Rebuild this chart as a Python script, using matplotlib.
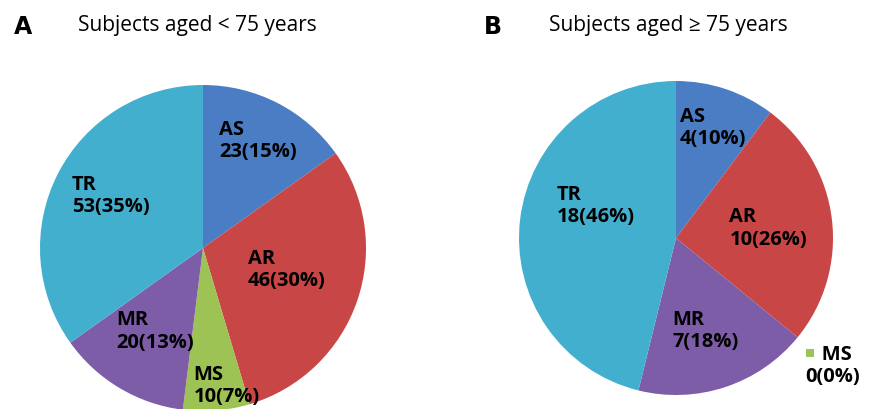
import matplotlib
matplotlib.use("Agg")
import matplotlib.pyplot as plt
import numpy as np

categories = ["AS", "AR", "MS", "MR", "TR"]
counts_a = [23, 46, 10, 20, 53]
counts_b = [4, 10, 0, 7, 18]
title_a = "Subjects aged < 75 years"
title_b = "Subjects aged \u2265 75 years"

colors = ["#4A7DC4", "#C84646", "#9CC354", "#7E5DA8", "#43AFCF"]

plt.rcParams['font.family'] = ['Open Sans', 'DejaVu Sans']

fig = plt.figure(figsize=(8.77, 4.09), dpi=100)
ax = fig.add_axes([0, 0, 1, 1])

LBL = dict(fontsize=14.5, fontweight='bold', linespacing=1.15)


def draw_pie(counts, center, radius, label_r, label_rot):
    total = float(sum(counts))
    wedges, _ = ax.pie(counts, colors=colors, startangle=90, counterclock=False,
                       radius=radius, center=center, frame=False,
                       wedgeprops=dict(linewidth=0))
    for i, w in enumerate(wedges):
        if counts[i] == 0:
            continue
        mid = np.deg2rad((w.theta1 + w.theta2) / 2 + label_rot[i])
        x = center[0] + label_r[i] * radius * np.cos(mid)
        y = center[1] + label_r[i] * radius * np.sin(mid)
        pct = round(100 * counts[i] / total)
        ax.text(x, y, "%s\n%d(%d%%)" % (categories[i], counts[i], pct),
                ha='center', va='center', multialignment='left', **LBL)
    return wedges


# panel A
draw_pie(counts_a, (203, 161), 163,
         [0.74, 0.53, 0.86, 0.59, 0.65], [0, 4, 5, 1, -2])
# panel B
wb = draw_pie(counts_b, (676, 171), 157,
              [0.74, 0.59, 0.0, 0.62, 0.55], [0, -1, 0, -1, -15])

# zero slice label shown outside with a small colour key
ms = wb[2]
ang = np.deg2rad(ms.theta1)
ex = 676 + 157 * np.cos(ang)
ey = 171 + 157 * np.sin(ang)
ax.scatter([ex + 12], [ey - 16], marker='s', color=colors[2], s=36,
           linewidths=0, zorder=5)
ax.text(ex + 8, ey - 29, "   %s\n%d(%d%%)" % (categories[2], counts_b[2], 0),
        ha='left', va='center', multialignment='left', **LBL)

ax.text(14, 382, "A", fontsize=17, fontweight='bold', va='center', ha='left',
        family='DejaVu Sans')
ax.text(78, 383, title_a, fontsize=15, va='center', ha='left')
ax.text(484, 382, "B", fontsize=17, fontweight='bold', va='center', ha='left',
        family='DejaVu Sans')
ax.text(549, 383, title_b, fontsize=15, va='center', ha='left')

ax.set_xlim(0, 877)
ax.set_ylim(0, 409)
ax.set_aspect('equal')
ax.axis('off')

fig.savefig("out.png", dpi=100)
